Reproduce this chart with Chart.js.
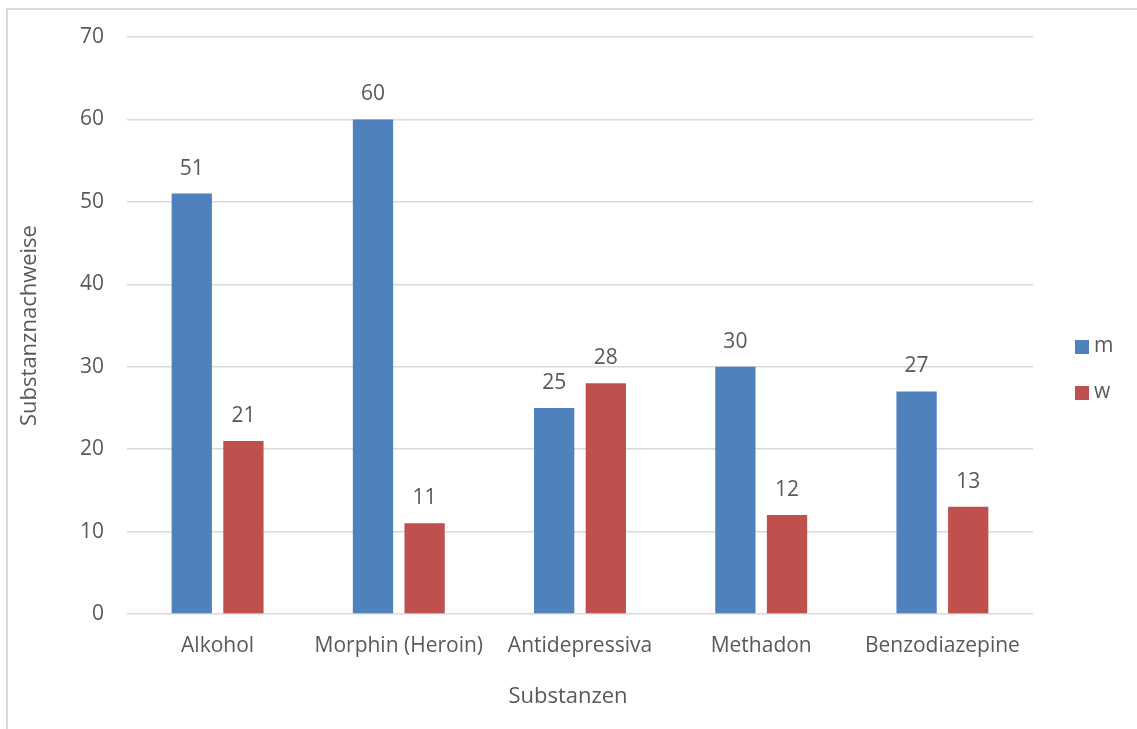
<!DOCTYPE html>
<html>
<head>
<meta charset="utf-8">
<script src="https://cdn.jsdelivr.net/npm/chart.js@4"></script>
<style>
  html, body { margin: 0; padding: 0; background: #fff; overflow: hidden; }
  #frame { position: absolute; left: 6px; top: 8px; width: 1200px; height: 800px; border: 2px solid #d9d9d9; box-sizing: border-box; }
  #wrap { position: absolute; left: 0; top: 0; width: 1137px; height: 729px; }
</style>
</head>
<body>
<div id="frame"></div>
<div id="wrap"><canvas id="myBarChart"></canvas></div>
<script>
// Substanzen und Nachweise
const substanzen = ["Alkohol", "Morphin (Heroin)", "Antidepressiva", "Methadon", "Benzodiazepine"];
const maennlich = [51, 60, 25, 30, 27];
const weiblich = [21, 11, 28, 12, 13];
const yTicks = [0, 10, 20, 30, 40, 50, 60, 70];

const textColor = '#595959';
const gridColor = '#d9d9d9';
const fontFamily = "'Open Sans', 'Noto Sans', sans-serif";

// values above each bar
const valueLabels = {
    id: 'valueLabels',
    afterDatasetsDraw(chart) {
        const ctx = chart.ctx;
        ctx.save();
        ctx.font = '21px ' + fontFamily;
        ctx.fillStyle = textColor;
        ctx.textAlign = 'center';
        ctx.textBaseline = 'middle';
        chart.data.datasets.forEach((ds, i) => {
            chart.getDatasetMeta(i).data.forEach((bar, j) => {
                ctx.fillText(ds.data[j], bar.x, bar.y - 25);
            });
        });
        ctx.restore();
    }
};

// legend on the right, stacked, plus the x axis title
const sideLegend = {
    id: 'sideLegend',
    afterDraw(chart) {
        const ctx = chart.ctx;
        ctx.save();
        ctx.font = '21px ' + fontFamily;
        ctx.textBaseline = 'middle';
        ctx.textAlign = 'left';
        chart.data.datasets.forEach((ds, i) => {
            const y = 347 + i * 46;
            ctx.fillStyle = ds.backgroundColor;
            ctx.fillRect(1075, y - 7, 14, 14);
            ctx.fillStyle = textColor;
            ctx.fillText(ds.label, 1094, y - 1);
        });
        ctx.font = '22px ' + fontFamily;
        ctx.textAlign = 'center';
        ctx.fillText('Substanzen', 568, 697);
        ctx.restore();
    }
};

const ctx = document.getElementById("myBarChart").getContext('2d');
const myBarChart = new Chart(ctx, {
    type: 'bar',
    data: {
        labels: substanzen,
        datasets: [{
            label: "m",
            backgroundColor: "#4f81bd",
            data: maennlich,
            barPercentage: 0.78,
            categoryPercentage: 0.57
        }, {
            label: "w",
            backgroundColor: "#c0504d",
            data: weiblich,
            barPercentage: 0.78,
            categoryPercentage: 0.57
        }]
    },
    options: {
        responsive: true,
        maintainAspectRatio: false,
        animation: false,
        layout: {
            padding: { top: 37, right: 104, left: 0, bottom: 0 }
        },
        scales: {
            x: {
                grid: { display: false, drawTicks: false },
                border: { display: false },
                ticks: {
                    color: textColor,
                    font: { family: fontFamily, size: 21 },
                    padding: 19,
                    maxRotation: 0
                },
                afterFit(scale) { scale.height = 115; }
            },
            y: {
                min: 0,
                max: 70,
                grid: { color: gridColor, lineWidth: 1.5, drawTicks: false },
                border: { display: false },
                afterBuildTicks(scale) {
                    scale.ticks = yTicks.map(v => ({ value: v }));
                },
                ticks: {
                    color: textColor,
                    font: { family: fontFamily, size: 21 },
                    padding: 23
                },
                title: {
                    display: true,
                    text: 'Substanznachweise',
                    color: textColor,
                    font: { family: fontFamily, size: 22 },
                    padding: { top: 17, bottom: 0 }
                },
                afterFit(scale) { scale.width = 127; }
            }
        },
        plugins: {
            legend: { display: false },
            tooltip: { enabled: false }
        }
    },
    plugins: [valueLabels, sideLegend]
});
</script>
</body>
</html>
